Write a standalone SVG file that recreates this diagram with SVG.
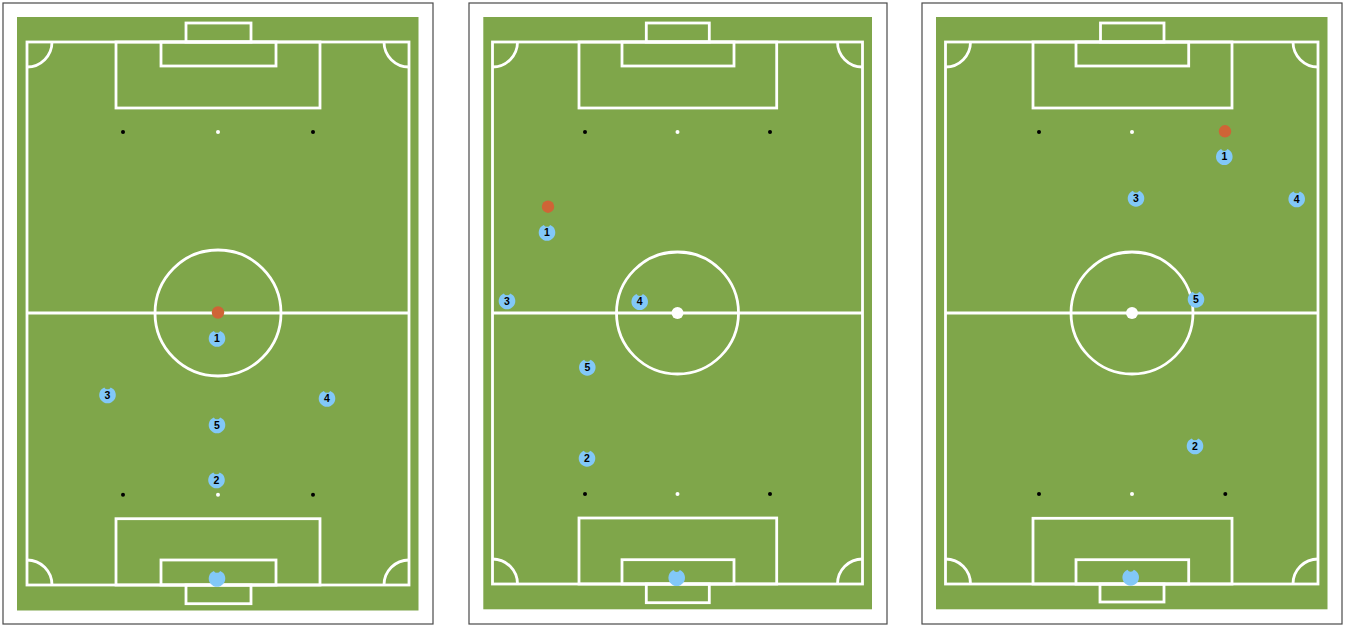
<svg xmlns="http://www.w3.org/2000/svg" width="1346" height="625" viewBox="0 0 1346 625">
<defs>
<style>
.frame{fill:#fff;stroke:#4a4a4a;stroke-width:1.2}
.grass{fill:#7fa64a}
.ln{fill:none;stroke:#fff;stroke-width:2.8}
.dk{fill:#000}
.wt{fill:#fff}
.ball{fill:#cf6436}
.pl{fill:#82c8f8}
.num{font-family:"Liberation Sans",Arial,sans-serif;font-weight:bold;font-size:10.5px;fill:#000;text-anchor:middle}
</style>
<path id="shirt" d="M -3.2,-7.6 A 8.3 8.3 0 1 0 3.2,-7.6 A 3.6 3.6 0 0 1 -3.2,-7.6 Z"/>
</defs>

<!-- Panel 1 -->
<g id="pitch1">
<rect class="frame" x="3" y="3" width="430" height="621"/>
<rect class="grass" x="17" y="17" width="401.5" height="593.5"/>
<rect class="ln" x="27" y="42" width="382" height="543"/>
<line class="ln" x1="27" y1="313" x2="409" y2="313"/>
<circle class="ln" cx="218" cy="313" r="63"/>
<rect class="ln" x="186" y="23" width="65" height="19"/>
<rect class="ln" x="161" y="42" width="115" height="24"/>
<rect class="ln" x="116" y="42" width="204" height="66"/>
<rect class="ln" x="116" y="518.7" width="204" height="66.3"/>
<rect class="ln" x="161" y="560" width="115" height="25"/>
<rect class="ln" x="186" y="585" width="65" height="18.7"/>
<path class="ln" d="M27,67 A25,25 0 0 0 52,42 M384,42 A25,25 0 0 0 409,67 M27,560 A25,25 0 0 1 52,585 M384,585 A25,25 0 0 1 409,560"/>
<circle class="dk" cx="123" cy="132" r="2"/><circle class="wt" cx="218" cy="132" r="2"/><circle class="dk" cx="313" cy="132" r="2"/>
<circle class="dk" cx="123" cy="494.7" r="2"/><circle class="wt" cx="218" cy="494.7" r="2"/><circle class="dk" cx="313" cy="494.7" r="2"/>
</g>
<g id="ball1"><circle class="ball" cx="218" cy="312.5" r="6.2"/></g>
<g id="p1-1" transform="translate(217,338.5)"><use href="#shirt" class="pl"/><text class="num" y="3.7">1</text></g>
<g id="p1-3" transform="translate(107.5,395)"><use href="#shirt" class="pl"/><text class="num" y="3.7">3</text></g>
<g id="p1-4" transform="translate(327,398.5)"><use href="#shirt" class="pl"/><text class="num" y="3.7">4</text></g>
<g id="p1-5" transform="translate(217,425)"><use href="#shirt" class="pl"/><text class="num" y="3.7">5</text></g>
<g id="p1-2" transform="translate(216.5,480)"><use href="#shirt" class="pl"/><text class="num" y="3.7">2</text></g>
<g id="p1-gk" transform="translate(217,578.5)"><use href="#shirt" class="pl"/></g>

<!-- Panel 2 -->
<g id="pitch2">
<rect class="frame" x="469" y="3" width="418" height="621"/>
<rect class="grass" x="483.3" y="17" width="388.7" height="592.3"/>
<rect class="ln" x="492.5" y="42" width="370" height="542"/>
<line class="ln" x1="492.5" y1="313" x2="862.5" y2="313"/>
<circle class="ln" cx="677.5" cy="313" r="61"/>
<circle class="wt" cx="677.5" cy="313" r="6"/>
<rect class="ln" x="646.3" y="23" width="63" height="19"/>
<rect class="ln" x="622" y="42" width="112" height="24"/>
<rect class="ln" x="579" y="42" width="197.7" height="66"/>
<rect class="ln" x="579" y="518" width="197.7" height="66"/>
<rect class="ln" x="622" y="559.7" width="112" height="24.3"/>
<rect class="ln" x="646.3" y="584" width="63" height="18.7"/>
<path class="ln" d="M492.5,67 A25,25 0 0 0 517.5,42 M837.5,42 A25,25 0 0 0 862.5,67 M492.5,559 A25,25 0 0 1 517.5,584 M837.5,584 A25,25 0 0 1 862.5,559"/>
<circle class="dk" cx="585" cy="132" r="2"/><circle class="wt" cx="677.5" cy="132" r="2"/><circle class="dk" cx="770" cy="132" r="2"/>
<circle class="dk" cx="585" cy="494" r="2"/><circle class="wt" cx="677.5" cy="494" r="2"/><circle class="dk" cx="770" cy="494" r="2"/>
</g>
<g id="ball2"><circle class="ball" cx="548" cy="206.7" r="6.2"/></g>
<g id="p2-1" transform="translate(547,232.5)"><use href="#shirt" class="pl"/><text class="num" y="3.7">1</text></g>
<g id="p2-3" transform="translate(507,301)"><use href="#shirt" class="pl"/><text class="num" y="3.7">3</text></g>
<g id="p2-4" transform="translate(639.7,301.7)"><use href="#shirt" class="pl"/><text class="num" y="3.7">4</text></g>
<g id="p2-5" transform="translate(587.3,367.3)"><use href="#shirt" class="pl"/><text class="num" y="3.7">5</text></g>
<g id="p2-2" transform="translate(587,458.3)"><use href="#shirt" class="pl"/><text class="num" y="3.7">2</text></g>
<g id="p2-gk" transform="translate(676.7,577.7)"><use href="#shirt" class="pl"/></g>

<!-- Panel 3 -->
<g id="pitch3">
<rect class="frame" x="922" y="3" width="420" height="621"/>
<rect class="grass" x="936" y="17" width="391.5" height="592.3"/>
<rect class="ln" x="945.5" y="42" width="372.5" height="542"/>
<line class="ln" x1="945.5" y1="313" x2="1318" y2="313"/>
<circle class="ln" cx="1132" cy="313" r="61"/>
<circle class="wt" cx="1132" cy="313" r="6"/>
<rect class="ln" x="1100.5" y="23" width="63.5" height="19"/>
<rect class="ln" x="1076" y="42" width="112.7" height="24"/>
<rect class="ln" x="1033" y="42" width="199" height="66"/>
<rect class="ln" x="1033" y="518.3" width="199" height="65.7"/>
<rect class="ln" x="1076" y="559.7" width="112.7" height="24.3"/>
<rect class="ln" x="1100" y="584" width="64" height="18"/>
<path class="ln" d="M945.5,67 A25,25 0 0 0 970.5,42 M1293,42 A25,25 0 0 0 1318,67 M945.5,559 A25,25 0 0 1 970.5,584 M1293,584 A25,25 0 0 1 1318,559"/>
<circle class="dk" cx="1039" cy="132" r="2"/><circle class="wt" cx="1132" cy="132" r="2"/><circle class="dk" cx="1225.3" cy="132" r="2"/>
<circle class="dk" cx="1039" cy="494" r="2"/><circle class="wt" cx="1132" cy="494" r="2"/><circle class="dk" cx="1225.3" cy="494" r="2"/>
</g>
<g id="ball3"><circle class="ball" cx="1225" cy="131.3" r="6.2"/></g>
<g id="p3-1" transform="translate(1224.3,156.7)"><use href="#shirt" class="pl"/><text class="num" y="3.7">1</text></g>
<g id="p3-3" transform="translate(1136,198.3)"><use href="#shirt" class="pl"/><text class="num" y="3.7">3</text></g>
<g id="p3-4" transform="translate(1296.7,199)"><use href="#shirt" class="pl"/><text class="num" y="3.7">4</text></g>
<g id="p3-5" transform="translate(1196,299.3)"><use href="#shirt" class="pl"/><text class="num" y="3.7">5</text></g>
<g id="p3-2" transform="translate(1195,446)"><use href="#shirt" class="pl"/><text class="num" y="3.7">2</text></g>
<g id="p3-gk" transform="translate(1130.7,577.3)"><use href="#shirt" class="pl"/></g>

<g id="connectors"></g>
</svg>
